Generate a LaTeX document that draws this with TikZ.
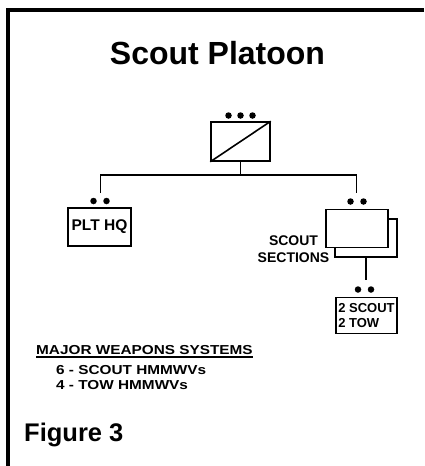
\documentclass[tikz,border=0pt]{standalone}
\usepackage{fontspec}
\setmainfont{Liberation Sans}
\newfontfamily\widesf[FakeStretch=1.18]{Liberation Sans}
\begin{document}
\begin{tikzpicture}[
  x=1pt, y=-1pt,
  unitbox/.style={rectangle, draw=black, line width=1.6pt, fill=white,
                  inner sep=0pt, align=left},
  lbl/.style={font=\fontsize{13}{15}\selectfont\bfseries},
  wide/.style={font=\widesf\fontsize{13}{15}\selectfont\bfseries,
               inner sep=0pt, anchor=base west},
  echelon/.style={circle, fill=black, inner sep=0pt, minimum size=6.5pt},
  link/.style={draw=black, line width=1.6pt}
]
\useasboundingbox (0,0) rectangle (424,466);
% frame, cut at the right and bottom
\draw[line width=4pt] (424,9.5) -- (8,9.5) -- (8,466);

\node[font=\fontsize{32}{36}\selectfont\bfseries, anchor=base] (title) at (217.5,64) {Scout Platoon};

% platoon
\node[unitbox, minimum width=59pt, minimum height=39pt] (plt) at (240.5,141.5) {};
\draw[line width=1.6pt] (plt.south west) -- (plt.north east);
\foreach \i in {0,1,2}
  \node[echelon] (pd\i) at (228.5+12*\i,115.5) {};

\coordinate (bar) at (240.5,175);
\coordinate (hqup) at (100.5,193);
\coordinate (secup) at (356.5,193);
\draw[link] (plt.south) -- (bar);
\draw[link] (hqup) |- (bar) -| (secup);

% plt hq
\node[unitbox, lbl, minimum width=63pt, minimum height=38pt,
      font=\fontsize{15.5}{17}\selectfont\bfseries] (hq) at (99.5,227) {PLT HQ};
\foreach \i in {0,1}
  \node[echelon] (hd\i) at (93.5+13*\i,201) {};

% scout sections
\node[unitbox, minimum width=62pt, minimum height=38pt] (secback) at (366,238) {};
\node[unitbox, minimum width=62pt, minimum height=38pt] (sec) at (357,228.3) {};
\foreach \i in {0,1}
  \node[echelon] (sd\i) at (350.5+13*\i,201.5) {};
\node[align=center, anchor=east, inner sep=0pt,
      font=\fontsize{14}{17.5}\selectfont\bfseries] (seclbl) at (329.5,249) {SCOUT\\SECTIONS};

\coordinate (sqdup) at (366,280);
\draw[link] (secback.south) -- (sqdup);
\foreach \i in {0,1}
  \node[echelon] (qd\i) at (358+13*\i,289.5) {};
\node[unitbox, lbl, minimum width=61pt, minimum height=36pt] (sqd) at (366.5,315.3) {2 SCOUT\\2 TOW};

% weapons
\node[wide] (mws) at (36,354) {MAJOR WEAPONS SYSTEMS};
\draw[line width=1.1pt] ([yshift=-3pt]mws.base west) -- ([yshift=-3pt]mws.base east);
\node[wide] (hmw1) at (56,374) {6 - SCOUT HMMWVs};
\node[wide] (hmw2) at (56,389) {4 - TOW HMMWVs};

\node[font=\fontsize{25.5}{30}\selectfont\bfseries, anchor=base west, inner sep=0pt] (fig) at (24,441) {Figure 3};
\end{tikzpicture}
\end{document}
